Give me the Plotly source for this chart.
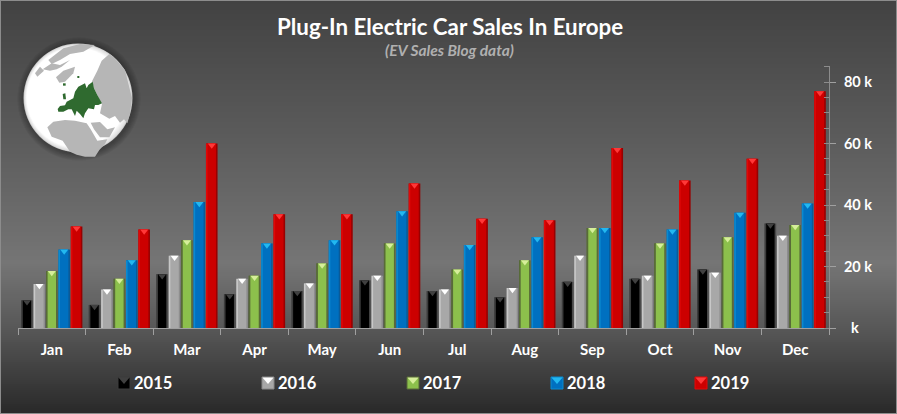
import plotly.graph_objects as go

W, H = 897, 414
months = ["Jan","Feb","Mar","Apr","May","Jun","Jul","Aug","Sep","Oct","Nov","Dec"]
years = ["2015","2016","2017","2018","2019"]
s2015 = [9, 7.5, 17.5, 11, 12, 15.5, 12, 10, 15, 16, 19, 34]
s2016 = [14.3, 12.5, 23.5, 16, 14.5, 17, 12.5, 13, 23.5, 17, 18, 30]
s2017 = [18.5, 16, 28.5, 17, 21, 27.5, 19, 22, 32.5, 27.5, 29.5, 33.5]
s2018 = [25.5, 22, 41, 27.5, 28.5, 38, 27, 29.5, 32.5, 32, 37.5, 40.5]
s2019 = [33, 32, 60, 37, 37, 47, 35.5, 35, 58.5, 48, 55, 77]
series = [s2015, s2016, s2017, s2018, s2019]
y_ticks = [0, 20, 40, 60, 80]
y_labels = ["\u00a0\u00a0k", "20 k", "40 k", "60 k", "80 k"]

# year styles: main, left edge, right edge, top triangle
styles = [
    dict(main="#000000", left="#3c3c3c", right="#4a4a4a", tri="#404040"),
    dict(main="#a8a8a8", left="#c8c8c8", right="#8e8e8e", tri="#ffffff"),
    dict(main="#8cc04c", left="#586b38", right="#586b38", tri="#d6ee9a"),
    dict(main="#0070c0", left="#0a8ad0", right="#0a5a98", tri="#22b8f0"),
    dict(main="#cc0000", left="#e00808", right="#990000", tri="#ff3838"),
]

PX0, PX1, PY0, PY1 = 18, 829, 328, 66
px_per_cat = (PX1 - PX0) / 12
px_per_k = 3.075
bar_w = 11.6 / px_per_cat
edge_w = 1.6 / px_per_cat
step = 12.4 / px_per_cat


def X(p):
    return p / W


def Y(p):
    return 1 - p / H


def pth(points):
    return "M" + "L".join(f"{X(a):.5f},{Y(b):.5f}" for a, b in points) + "Z"


def hexmix(stops, y):
    for (y0, c0), (y1, c1) in zip(stops, stops[1:]):
        if y0 <= y <= y1:
            t = (y - y0) / (y1 - y0)
            v = round(c0 + (c1 - c0) * t)
            return f"rgb({v},{v},{v})"
    return "rgb(42,42,42)"


shapes = []
bg_stops = [(0, 0x42), (130, 0x5a), (262, 0x75), (330, 0x56), (414, 0x28)]
for py in range(0, H, 2):
    # each band runs to the bottom, so no seams appear between bands
    shapes.append(dict(type="rect", xref="paper", yref="paper", layer="below",
                       x0=0, x1=1, y0=0, y1=Y(py), line_width=0,
                       fillcolor=hexmix(bg_stops, py)))
# frame
shapes.append(dict(type="rect", xref="paper", yref="paper", layer="below", x0=0, x1=1, y0=0, y1=1,
                   line=dict(color="#8c8c8c", width=2), fillcolor="rgba(0,0,0,0)"))

# globe
GX, GY, GR = 78, 98, 54.5


def circle(cx, cy, r, color):
    shapes.append(dict(type="circle", xref="paper", yref="paper", layer="below",
                       x0=X(cx - r), x1=X(cx + r), y0=Y(cy + r), y1=Y(cy - r),
                       line_width=0, fillcolor=color))


for i in range(7):
    circle(GX + 1, GY + 1, GR + 7 - i, "rgba(30,30,30,0.07)")
circle(GX, GY, GR, "#c4c4c4")
for i in range(10):
    t = i / 9
    v = round(0xdc + (0xff - 0xdc) * t)
    circle(GX - 1.5 * t, GY - 0.5 * t, GR - 0.7 - 4 * t, f"rgb({v},{v},{v})")


def z7(points):
    return [(20 + a / 3, 40 + b / 3) for a, b in points]


lands = [
    # Africa
    [(82,262),(100,245),(135,240),(165,242),(200,250),(212,268),(232,302),(262,298),(255,312),(238,330),(225,350),(195,350),(170,344),(150,335),(128,302),(95,290)],
    # Arabia
    [(212,248),(240,246),(262,268),(285,262),(268,292),(240,292),(222,268)],
    # Asia
    [(216,124),(232,92),(245,62),(268,42),(280,50),(315,90),(336,174),(330,222),(322,250),(312,238),(300,248),(285,228),(268,236),(240,220),(246,192),(232,165),(222,145)],
    # Greenland
    [(108,112),(130,92),(165,80),(160,100),(135,125),(118,128)],
    # Canadian islands
    [(68,88),(95,70),(120,75),(150,60),(125,80),(110,88),(90,92)],
    # Top band of North America
    [(85,60),(130,25),(180,12),(225,15),(190,35),(150,42),(120,60),(95,72)],
    # Alaska side
    [(45,100),(60,80),(72,92),(52,110)],
]
for land in lands:
    shapes.append(dict(type="path", xref="paper", yref="paper", layer="below",
                       path=pth(z7(land)), line_width=0, fillcolor="#b6b6b6"))
europe = [(113,207),(120,198),(135,196),(140,185),(150,180),(160,175),(165,155),(175,140),(195,130),(200,145),(205,135),(218,125),
          (222,145),(232,165),(246,190),(235,195),(225,195),(222,208),(205,205),(195,220),(190,235),(180,222),(170,212),(165,228),
          (155,208),(145,208),(130,215),(115,215)]
shapes.append(dict(type="path", xref="paper", yref="paper", layer="below", path=pth(z7(europe)), line_width=0, fillcolor="#2f6a2f"))
for isle in ([(129,130),(137,130),(137,137),(129,137)], [(128,162),(136,160),(138,178),(130,178)], [(172,108),(178,108),(178,114),(172,114)]):
    shapes.append(dict(type="path", xref="paper", yref="paper", layer="below", path=pth(z7(isle)), line_width=0, fillcolor="#2f6a2f"))

fig = go.Figure()
for j, (yr, vals, st) in enumerate(zip(years, series, styles)):
    xs = [i + 0.5 + (j - 2) * step for i in range(12)]
    fig.add_trace(go.Bar(x=xs, y=vals, width=bar_w, marker=dict(color=st["right"], line_width=0), name=yr, showlegend=False))
    fig.add_trace(go.Bar(x=[a - bar_w * 0.1 for a in xs], y=vals, width=bar_w * 0.8, marker=dict(color=st["left"], line_width=0), showlegend=False))
    fig.add_trace(go.Bar(x=xs, y=vals, width=bar_w - 2 * edge_w, marker=dict(color=st["main"], line_width=0), showlegend=False))
    fig.add_trace(go.Scatter(x=xs, y=[v - 1.75 / px_per_k for v in vals], mode="markers", showlegend=False,
                             marker=dict(symbol="triangle-down", size=7, color=st["tri"], line_width=0)))

# legend
annotations = []
LEG_X = [124, 268, 413, 557, 701]
LEG_Y = 383
for lx, yr, st in zip(LEG_X, years, styles):
    shapes.append(dict(type="rect", xref="paper", yref="paper", layer="above",
                       x0=X(lx - 6), x1=X(lx + 6), y0=Y(LEG_Y + 6), y1=Y(LEG_Y - 6), line_width=0, fillcolor=st["main"]))
    shapes.append(dict(type="path", xref="paper", yref="paper", layer="above",
                       path=pth([(lx - 6, LEG_Y - 6), (lx + 6, LEG_Y - 6), (lx, LEG_Y + 1)]), line_width=0, fillcolor=st["tri"]))
    shapes.append(dict(type="rect", xref="paper", yref="paper", layer="above",
                       x0=X(lx - 6), x1=X(lx + 6), y0=Y(LEG_Y + 6), y1=Y(LEG_Y - 6),
                       line=dict(color=st["left"] if yr != "2016" else "#888888", width=1), fillcolor="rgba(0,0,0,0)"))
    annotations.append(dict(xref="paper", yref="paper", x=X(lx + 8), y=Y(LEG_Y), xanchor="left", yanchor="middle", showarrow=False,
                            text=f"<b>{yr}</b>", font=dict(family="Lato", size=16.5, color="white")))

annotations.append(dict(xref="paper", yref="paper", x=X(450), y=Y(26), xanchor="center", yanchor="middle", showarrow=False,
                        text="<b>Plug-In Electric Car Sales In Europe</b>", font=dict(family="Lato", size=22.3, color="white")))
annotations.append(dict(xref="paper", yref="paper", x=X(449), y=Y(50), xanchor="center", yanchor="middle", showarrow=False,
                        text="<b><i>(EV Sales Blog data)</i></b>", font=dict(family="Lato", size=15.5, color="#b0b0b0")))

fig.update_layout(
    width=W, height=H, autosize=False, margin=dict(l=0, r=0, t=0, b=0),
    paper_bgcolor="#555555", plot_bgcolor="rgba(0,0,0,0)", barmode="overlay", showlegend=False,
    shapes=shapes, annotations=annotations,
    xaxis=dict(domain=[X(PX0), X(PX1)], range=[0, 12], tickmode="array", tickvals=[i + 0.5 for i in range(12)], ticktext=months, automargin=False,
               ticks="", ticklen=0, ticklabelstandoff=8, showgrid=False, zeroline=False, showline=True, linecolor="#a0a0a0", linewidth=1,
               tickfont=dict(family="Lato", size=15, color="white", weight="bold"),
               minor=dict(tickmode="array", tickvals=list(range(13)), ticks="outside", ticklen=6, tickcolor="#a0a0a0", tickwidth=1, showgrid=False)),
    yaxis=dict(domain=[Y(PY0), Y(PY1)], range=[0, (PY0 - PY1) / px_per_k], side="right", tickmode="array", tickvals=y_ticks, ticktext=y_labels, automargin=False,
               ticks="outside", ticklen=6, tickcolor="#a0a0a0", tickwidth=1, showgrid=False, zeroline=False, showline=True, linecolor="#8c8c8c", linewidth=1,
               tickfont=dict(family="Lato", size=14.5, color="white", weight="bold"), ticklabelstandoff=5,
               minor=dict(dtick=5, ticks="inside", ticklen=5, tickcolor="#8c8c8c", tickwidth=1, showgrid=False)),
)
fig.write_html("out.html", config=dict(displayModeBar=False),
               post_script="document.body.style.margin='0';document.body.style.overflow='hidden';")
